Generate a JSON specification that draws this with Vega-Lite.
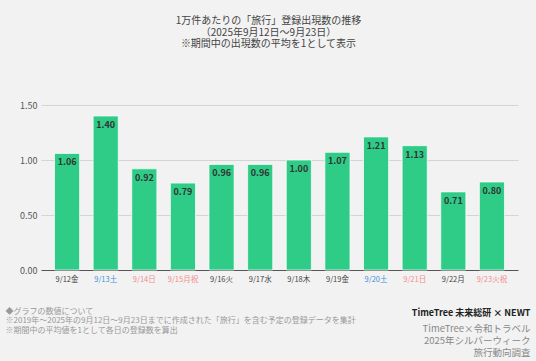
{
  "$schema": "https://vega.github.io/schema/vega-lite/v6.json",
  "width": 477,
  "height": 165,
  "autosize": {"type": "none"},
  "padding": {"left": 41, "top": 105, "right": 18, "bottom": 91},
  "background": "#f2f2f2",
  "config": {
    "font": "Noto Sans CJK JP",
    "view": {"stroke": null}
  },
  "title": {
    "text": ["1万件あたりの「旅行」登録出現数の推移", "（2025年9月12日〜9月23日）", "※期間中の出現数の平均を1として表示"],
    "anchor": "middle",
    "fontSize": 10,
    "fontWeight": "normal",
    "color": "#444444",
    "lineHeight": 11.5,
    "offset": 52,
    "dx": -11
  },
  "data": {
    "values": [
      {"day": "9/12金", "value": 1.06},
      {"day": "9/13土", "value": 1.40},
      {"day": "9/14日", "value": 0.92},
      {"day": "9/15月祝", "value": 0.79},
      {"day": "9/16火", "value": 0.96},
      {"day": "9/17水", "value": 0.96},
      {"day": "9/18木", "value": 1.00},
      {"day": "9/19金", "value": 1.07},
      {"day": "9/20土", "value": 1.21},
      {"day": "9/21日", "value": 1.13},
      {"day": "9/22月", "value": 0.71},
      {"day": "9/23火祝", "value": 0.80}
    ]
  },
  "encoding": {
    "x": {
      "field": "day",
      "type": "nominal",
      "sort": null,
      "scale": {"paddingInner": 0.35, "paddingOuter": 0.35},
      "axis": {
        "labelAngle": 0,
        "ticks": false,
        "domainColor": "#555555",
        "labelFontSize": 7.5,
        "labelPadding": 5,
        "labelColor": {"expr": "indexof(datum.label,'土')>=0 ? '#3d8fd8' : ((indexof(datum.label,'日')>=0 || indexof(datum.label,'祝')>=0) ? '#f28b8b' : '#444444')"},
        "title": ["◆グラフの数値について", "※2019年〜2025年の9月12日〜9月23日までに作成された「旅行」を含む予定の登録データを集計", "※期間中の平均値を1として各日の登録数を算出"],
        "titleAnchor": "start",
        "titleAlign": "left",
        "titleBaseline": "top",
        "titleX": -36,
        "titleY": 37,
        "titleFontSize": 8,
        "titleLineHeight": 9.5,
        "titleFontWeight": "normal",
        "titleColor": "#999999"
      }
    },
    "y": {
      "field": "value",
      "type": "quantitative",
      "scale": {"domain": [0, 1.5], "nice": false}
    }
  },
  "layer": [
    {
      "mark": {"type": "bar", "color": "#2ecc87", "stroke": "#ffffff", "strokeWidth": 1, "strokeOpacity": 0.7},
      "encoding": {
        "y": {
          "field": "value",
          "type": "quantitative",
          "axis": {
            "values": [0, 0.5, 1, 1.5],
            "format": ".2f",
            "domain": false,
            "ticks": false,
            "labelFontSize": 9,
            "labelColor": "#555555",
            "labelPadding": 4,
            "gridColor": "#d4d4d4",
            "title": "TimeTree 未来総研 × NEWT",
            "titleAngle": 0,
            "titleAlign": "right",
            "titleBaseline": "middle",
            "titleX": 489,
            "titleY": 207,
            "titleFontSize": 9,
            "titleFontWeight": "bold",
            "titleColor": "#222222"
          }
        }
      }
    },
    {
      "mark": {"type": "text", "baseline": "top", "dy": 5, "fontSize": 9, "fontWeight": "bold", "color": "#333333"},
      "encoding": {
        "text": {"field": "value", "type": "quantitative", "format": ".2f"},
        "y": {
          "field": "value",
          "type": "quantitative",
          "axis": {
            "orient": "right",
            "labels": false,
            "ticks": false,
            "domain": false,
            "grid": false,
            "title": ["TimeTree×令和トラベル", "2025年シルバーウィーク", "旅行動向調査"],
            "titleAngle": 0,
            "titleAlign": "right",
            "titleBaseline": "top",
            "titleX": 12,
            "titleY": 218,
            "titleFontSize": 9.5,
            "titleLineHeight": 12,
            "titleFontWeight": "normal",
            "titleColor": "#888888"
          }
        }
      }
    }
  ],
  "resolve": {"axis": {"y": "independent"}}
}
